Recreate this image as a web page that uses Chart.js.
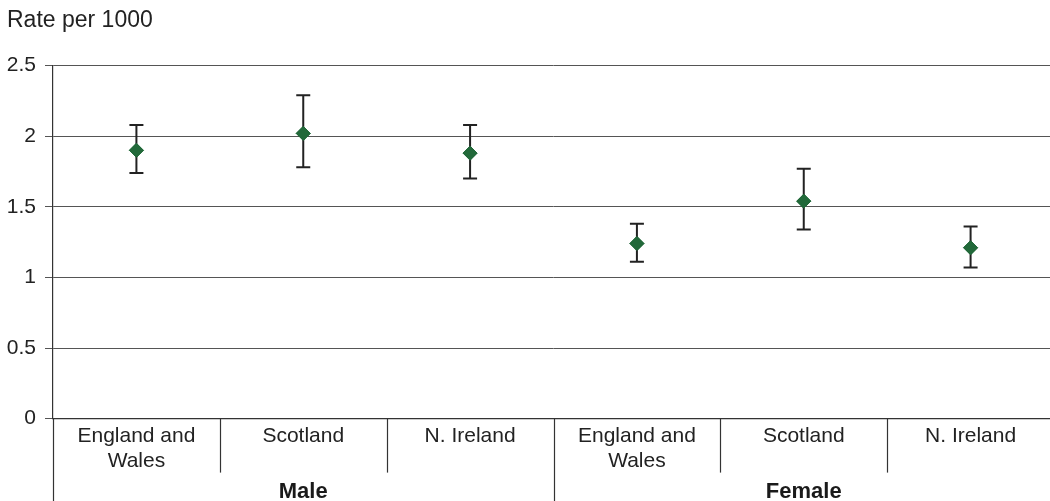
<!DOCTYPE html>
<html>
<head>
<meta charset="utf-8">
<script src="https://cdn.jsdelivr.net/npm/chart.js@4"></script>
<style>
  html, body { margin: 0; padding: 0; background: #fff; overflow: hidden; }
  canvas { display: block; }
</style>
</head>
<body>
<canvas id="rateChart" width="1062" height="501"></canvas>
<script>
// Chart values
const categories = [['England and', 'Wales'], 'Scotland', 'N. Ireland', ['England and', 'Wales'], 'Scotland', 'N. Ireland'];
const groupOf = ['Male', 'Male', 'Male', 'Female', 'Female', 'Female'];
const groups = ['Male', 'Female'];
const rates = [1.90, 2.02, 1.88, 1.24, 1.54, 1.21];
const lower = [1.74, 1.78, 1.70, 1.11, 1.34, 1.07];
const upper = [2.08, 2.29, 2.08, 1.38, 1.77, 1.36];
const yTicks = [0, 0.5, 1, 1.5, 2, 2.5];

const FONT = '"Liberation Sans", Arial, sans-serif';

// error bars, category separators and group labels
const extras = {
    id: 'extras',
    afterDatasetsDraw(chart) {
        const ctx = chart.ctx;
        const x = chart.scales.x;
        const y = chart.scales.y;

        ctx.save();
        ctx.strokeStyle = '#222';
        ctx.lineWidth = 2;
        rates.forEach((v, i) => {
            const px = x.getPixelForValue(i);
            const top = y.getPixelForValue(upper[i]);
            const bot = y.getPixelForValue(lower[i]);
            ctx.beginPath();
            ctx.moveTo(px, top);
            ctx.lineTo(px, bot);
            ctx.moveTo(px - 7, top);
            ctx.lineTo(px + 7, top);
            ctx.moveTo(px - 7, bot);
            ctx.lineTo(px + 7, bot);
            ctx.stroke();
        });
        ctx.restore();
        // redraw points over the bars
        chart.getDatasetMeta(0).data.forEach(pt => pt.draw(ctx, chart.chartArea));
    },
    afterDraw(chart) {
        const ctx = chart.ctx;
        const x = chart.scales.x;
        const bottom = chart.chartArea.bottom;
        const step = x.getPixelForValue(1) - x.getPixelForValue(0);

        ctx.save();
        ctx.strokeStyle = '#333';
        ctx.lineWidth = 1.2;
        for (let i = 0; i <= categories.length; i++) {
            const px = Math.round(x.getPixelForValue(i) - step / 2) + 0.5;
            const isGroupEdge = i === 0 || i === categories.length || groupOf[i] !== groupOf[i - 1];
            ctx.beginPath();
            ctx.moveTo(px, bottom);
            ctx.lineTo(px, isGroupEdge ? chart.height : bottom + 54);
            ctx.stroke();
        }

        ctx.fillStyle = '#1a1a1a';
        ctx.font = 'bold 22px ' + FONT;
        ctx.textAlign = 'center';
        ctx.textBaseline = 'alphabetic';
        groups.forEach(g => {
            const idx = groupOf.map((v, i) => v === g ? i : -1).filter(i => i >= 0);
            const cx = (x.getPixelForValue(idx[0]) + x.getPixelForValue(idx[idx.length - 1])) / 2;
            ctx.fillText(g, cx, bottom + 79);
        });
        ctx.restore();
    }
};

new Chart(document.getElementById('rateChart'), {
    type: 'line',
    data: {
        labels: categories,
        datasets: [{
            data: rates,
            showLine: false,
            pointStyle: 'rectRot',
            pointRadius: 7,
            pointHoverRadius: 7,
            pointBackgroundColor: '#22693a',
            pointBorderColor: '#22693a',
            pointBorderWidth: 1,
        }],
    },
    options: {
        responsive: false,
        animation: false,
        events: [],
        layout: { padding: { left: 7, right: 0, top: 0, bottom: 30 } },
        plugins: {
            legend: { display: false },
            tooltip: { enabled: false },
            title: {
                display: true,
                text: 'Rate per 1000',
                align: 'start',
                color: '#222',
                font: { family: FONT, size: 23, weight: 'normal' },
                padding: { top: 7, bottom: 31 },
            },
        },
        scales: {
            x: {
                offset: true,
                grid: { display: false },
                border: { display: true, color: '#333', width: 1.2 },
                ticks: {
                    color: '#222',
                    font: { family: FONT, size: 21, lineHeight: 1.2 },
                    padding: -3,
                    maxRotation: 0,
                    autoSkip: false,
                },
            },
            y: {
                min: 0,
                max: 2.5,
                afterFit(scale) { scale.width = 46; },
                afterBuildTicks(scale) { scale.ticks = yTicks.map(v => ({ value: v })); },
                grid: { color: '#555', lineWidth: 1, tickLength: 8 },
                border: { display: true, color: '#333', width: 1.2 },
                ticks: {
                    color: '#222',
                    font: { family: FONT, size: 21 },
                    padding: 9,
                    callback: v => String(v),
                },
            },
        },
    },
    plugins: [extras],
});
</script>
</body>
</html>
